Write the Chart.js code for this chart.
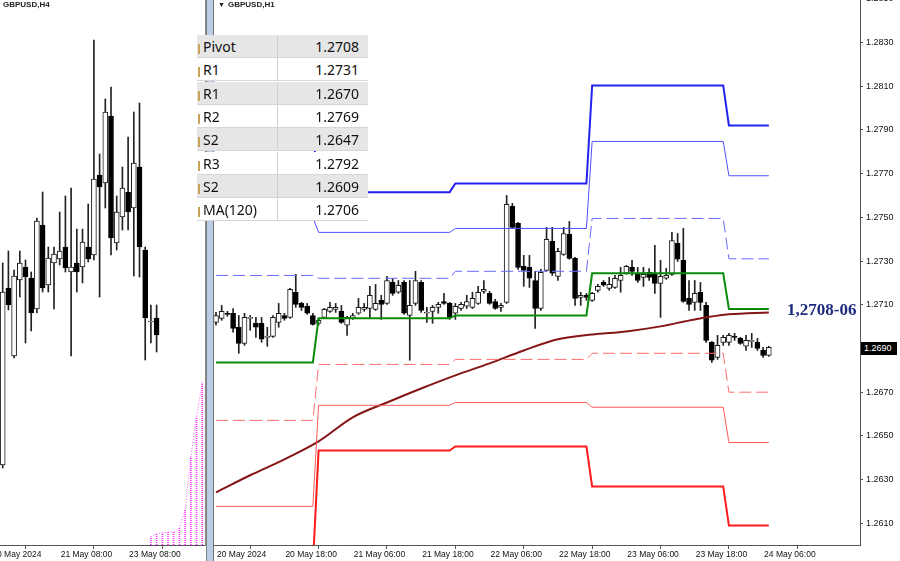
<!DOCTYPE html>
<html>
<head>
<meta charset="utf-8">
<script src="https://cdn.jsdelivr.net/npm/chart.js@4.4.1/dist/chart.umd.min.js"></script>
<style>
html,body{margin:0;padding:0;background:#fff;}
#wrap{position:relative;width:900px;height:561px;overflow:hidden;background:#fff;font-family:"Liberation Sans",Arial,sans-serif;}
canvas{position:absolute;top:0;}
#cLeft{left:0;}
#cRight{left:214px;}
#leftBorder{position:absolute;left:205px;top:0;width:1px;height:546px;background:#8a8a8a;}
#split{position:absolute;left:206px;top:0;width:6px;height:561px;background:#b9cde5;border-left:1px solid #7f7f7f;border-right:1px solid #6f6f6f;}
.title{position:absolute;top:0px;font-size:8px;font-weight:bold;color:#222;white-space:nowrap;}
#tbl{position:absolute;left:197px;top:35px;width:171px;}
.row{position:absolute;left:0;width:171px;height:23px;border-bottom:1px solid #d6d6d6;box-sizing:border-box;font-family:"Noto Sans","Open Sans",sans-serif;font-size:14px;color:#111;}
.row.g{background:#e6e6e6;}
.row.w{background:#fff;}
.row .n{position:absolute;left:6px;top:2px;}
.row .v{position:absolute;right:9px;top:2px;}
.row .sep{position:absolute;left:80px;top:0;width:1px;height:100%;background:#cfcfcf;}
.row .mk{position:absolute;left:1px;top:9px;width:2px;height:10px;background:#c9a25a;}
#lvl{position:absolute;left:787px;top:300px;font-family:"Liberation Serif","DejaVu Serif",serif;font-weight:bold;font-size:17px;color:#1e2b7c;white-space:nowrap;}
#price{position:absolute;left:861px;top:342px;width:36px;height:13px;background:#000;color:#fff;font-size:9px;line-height:13px;padding-left:3px;box-sizing:border-box;}
</style>
</head>
<body>
<div id="wrap">
  <canvas id="cLeft" width="205" height="561"></canvas>
  <canvas id="cRight" width="686" height="561"></canvas>
  <div id="leftBorder"></div>
  <div id="split"></div>
  <div class="title" style="left:3px;">GBPUSD,H4</div>
  <div class="title" style="left:218px;font-weight:normal;font-size:7px;top:1px;">&#9660;</div>
  <div class="title" style="left:228px;">GBPUSD,H1</div>
  <div id="tbl"></div>
  <div id="lvl">1,2708-06</div>
  <div id="price">1.2690</div>
</div>
<script>
// ---------------- H1 (right panel) data: one entry per hourly bar, bar 0 = 20 May 06:00 ----------------
const h1Open = [1.27019,1.27038,1.27061,1.27061,1.26997,1.26923,1.27038,1.27015,1.27015,1.26951,
1.26955,1.27019,1.27051,1.27042,1.27157,1.27106,1.27093,1.27051,1.27015,1.27042,
1.27070,1.27079,1.27070,1.27006,1.27038,1.27061,1.27079,1.27083,1.27079,1.27120,
1.27106,1.27202,1.27157,1.27202,1.27051,1.27106,1.27202,1.27061,1.27070,1.27088,
1.27115,1.27106,1.27061,1.27083,1.27093,1.27088,1.27106,1.27161,1.27152,1.27115,
1.27088,1.27111,1.27550,1.27472,1.27276,1.27271,1.27211,1.27083,1.27257,1.27390,
1.27230,1.27330,1.27422,1.27312,1.27134,1.27143,1.27120,1.27166,1.27202,1.27175,
1.27179,1.27211,1.27244,1.27271,1.27244,1.27225,1.27248,1.27239,1.27198,1.27221,
1.27239,1.27381,1.27303,1.27129,1.27111,1.27157,1.27097,1.26928,1.26859,1.26928,
1.26928,1.26955,1.26946,1.26910,1.26932,1.26928,1.26891,1.26868];
const h1High = [1.27065,1.27097,1.27070,1.27083,1.27051,1.27061,1.27051,1.27042,1.27042,1.26997,
1.27051,1.27106,1.27061,1.27175,1.27239,1.27111,1.27106,1.27061,1.27038,1.27083,
1.27111,1.27106,1.27097,1.27047,1.27061,1.27129,1.27106,1.27184,1.27193,1.27143,
1.27230,1.27221,1.27211,1.27211,1.27211,1.27253,1.27211,1.27088,1.27097,1.27111,
1.27152,1.27111,1.27106,1.27111,1.27143,1.27157,1.27184,1.27211,1.27161,1.27125,
1.27106,1.27600,1.27564,1.27477,1.27326,1.27326,1.27253,1.27262,1.27454,1.27454,
1.27358,1.27454,1.27481,1.27317,1.27157,1.27152,1.27157,1.27193,1.27211,1.27225,
1.27234,1.27271,1.27280,1.27303,1.27271,1.27271,1.27266,1.27372,1.27303,1.27266,
1.27431,1.27426,1.27449,1.27211,1.27211,1.27202,1.27111,1.26932,1.26960,1.26960,
1.26969,1.26969,1.26951,1.26960,1.26969,1.26946,1.26905,1.26910];
const h1Low = [1.27006,1.27029,1.27047,1.26974,1.26878,1.26914,1.26983,1.26951,1.26928,1.26910,
1.26951,1.26997,1.27029,1.27038,1.27088,1.27074,1.27056,1.27006,1.27006,1.27038,
1.27065,1.27065,1.27015,1.26960,1.27033,1.27056,1.27070,1.27042,1.27074,1.27033,
1.27102,1.27143,1.27152,1.27056,1.26846,1.27097,1.27065,1.27019,1.27015,1.27061,
1.27102,1.27033,1.27033,1.27074,1.27083,1.27083,1.27102,1.27152,1.27102,1.27079,
1.27070,1.27106,1.27449,1.27262,1.27184,1.27179,1.26992,1.27074,1.27253,1.27234,
1.27211,1.27326,1.27308,1.27097,1.27097,1.27120,1.27115,1.27157,1.27184,1.27166,
1.27175,1.27157,1.27239,1.27234,1.27202,1.27184,1.27211,1.27152,1.27042,1.27216,
1.27234,1.27298,1.27111,1.27074,1.27074,1.27074,1.26928,1.26836,1.26850,1.26914,
1.26914,1.26937,1.26919,1.26891,1.26905,1.26891,1.26859,1.26864];
const h1Close = [1.27051,1.27070,1.27056,1.26992,1.26923,1.27042,1.27042,1.26997,1.26942,1.26955,
1.27042,1.27061,1.27038,1.27170,1.27102,1.27088,1.27061,1.27010,1.27029,1.27079,
1.27088,1.27088,1.27019,1.27042,1.27051,1.27088,1.27088,1.27143,1.27106,1.27102,
1.27211,1.27152,1.27189,1.27061,1.27097,1.27211,1.27074,1.27065,1.27088,1.27102,
1.27106,1.27042,1.27093,1.27102,1.27115,1.27129,1.27157,1.27170,1.27106,1.27083,
1.27097,1.27559,1.27454,1.27271,1.27257,1.27221,1.27083,1.27248,1.27399,1.27244,
1.27344,1.27426,1.27312,1.27129,1.27143,1.27134,1.27152,1.27184,1.27189,1.27193,
1.27221,1.27234,1.27276,1.27253,1.27211,1.27239,1.27225,1.27198,1.27230,1.27234,
1.27394,1.27308,1.27115,1.27102,1.27152,1.27111,1.26937,1.26846,1.26914,1.26951,
1.26960,1.26951,1.26923,1.26937,1.26937,1.26900,1.26868,1.26905];

// daily pivot levels (20, 21, 22, 23, 24 May); first and last hourly bar of each day
const dayStart = [0, 18, 42, 66, 90];
const dayEnd   = [17, 41, 65, 89, 97];
const levelR3    = [1.27897, 1.27615, 1.27655, 1.28103, 1.2792];
const levelR2    = [1.27499, 1.27431, 1.27449, 1.27847, 1.2769];
const levelR1    = [1.27234, 1.27221, 1.27253, 1.27495, 1.2731];
const levelPivot = [1.26836, 1.27038, 1.27051, 1.27244, 1.2708];
const levelS1    = [1.26571, 1.26827, 1.26850, 1.26878, 1.2670];
const levelS2    = [1.26178, 1.26640, 1.26653, 1.26631, 1.2647];
const levelS3    = [1.25908, 1.26433, 1.26452, 1.26269, 1.2609];

// MA(120) read at every 6th bar
const maBars   = [0, 6, 12, 18, 24, 30, 36, 42, 48, 54, 60, 66, 72, 78, 84, 90, 97];
const maValues = [1.26242,1.26320,1.26393,1.26475,1.26585,1.26653,1.26717,1.26777,1.26832,1.26891,1.26942,1.26964,1.26978,1.27001,1.27033,1.27056,1.27065];

const h1TickBars   = [0, 12, 24, 36, 48, 60, 72, 84, 96];
const h1TickLabels = ['20 May 2024','20 May 18:00','21 May 06:00','21 May 18:00','22 May 06:00','22 May 18:00','23 May 06:00','23 May 18:00','24 May 06:00'];
const priceTicks   = [1.2610,1.2630,1.2650,1.2670,1.2690,1.2710,1.2730,1.2750,1.2770,1.2790,1.2810,1.2830,1.2850];

// ---------------- H4 (left panel) data ----------------
const h4Open  = [1.26770,1.27124,1.26988,1.27140,1.27166,1.27144,1.27082,1.27250,1.27130,1.27174,1.27182,1.27206,1.27156,1.27174,1.27166,1.27206,1.27190,1.27350,1.27334,1.27468,1.27214,1.27266,1.27316,1.27284,1.27366,1.27200,1.27056,1.27064];
const h4High  = [1.27174,1.27198,1.27160,1.27198,1.27180,1.27156,1.27264,1.27316,1.27206,1.27206,1.27276,1.27308,1.27324,1.27242,1.27242,1.27292,1.27620,1.27392,1.27502,1.27526,1.27308,1.27366,1.27426,1.27476,1.27494,1.27206,1.27090,1.27090];
const h4Low   = [1.26764,1.27080,1.26984,1.27106,1.27014,1.27038,1.27074,1.27116,1.27116,1.27082,1.27170,1.27156,1.26988,1.27116,1.27134,1.27176,1.27180,1.27106,1.27284,1.27190,1.27200,1.27240,1.27240,1.27148,1.27146,1.26980,1.27014,1.26996];
const h4Close = [1.27116,1.27090,1.27148,1.27174,1.27146,1.27074,1.27258,1.27124,1.27184,1.27192,1.27198,1.27164,1.27166,1.27156,1.27216,1.27182,1.27342,1.27326,1.27476,1.27224,1.27276,1.27324,1.27276,1.27374,1.27206,1.27064,1.27058,1.27030];
const cloudBars = [26, 27, 28, 29, 30, 31, 32, 33, 34, 35];
const cloudTop  = [1.26626,1.26632,1.26634,1.26636,1.26636,1.26644,1.26680,1.26786,1.26866,1.26934];
const h4TickBars   = [-2, 10, 22];
const h4TickLabels = ['20 May 2024','21 May 08:00','23 May 08:00'];

// ---------------- info table ----------------
const tableNames  = ['Pivot','R1','R1','R2','S2','R3','S2','MA(120)'];
const tableValues = ['1.2708','1.2731','1.2670','1.2769','1.2647','1.2792','1.2609','1.2706'];

// =======================================================================
const SANS = '"Liberation Sans", Arial, sans-serif';

function candleDatasets(o, h, l, c, bodyW) {
  const bull = [], bear = [], wick = [];
  o.forEach((ov, i) => {
    wick.push({x: i, y: [l[i], h[i]]});
    if (c[i] >= ov) bull.push({x: i, y: [ov, c[i]]});
    else bear.push({x: i, y: [c[i], ov]});
  });
  const base = {type: 'bar', grouped: false, borderSkipped: false, barThickness: bodyW};
  return [
    Object.assign({}, base, {data: bull, backgroundColor: '#ffffff', borderColor: '#1a1a1a', borderWidth: 1, order: 0}),
    Object.assign({}, base, {data: bear, backgroundColor: '#000000', borderColor: '#000000', borderWidth: 1, order: 0}),
    Object.assign({}, base, {data: wick, backgroundColor: '#222222', borderWidth: 0, barThickness: 1, order: 1})
  ];
}

function levelPoints(vals) {
  const pts = [];
  dayStart.forEach((s, d) => {
    pts.push({x: s, y: vals[d]});
    pts.push({x: dayEnd[d], y: vals[d]});
  });
  return pts;
}

function lineDs(data, color, width, dash) {
  return {type: 'line', data: data, borderColor: color, borderWidth: width, borderDash: dash || [],
          pointRadius: 0, tension: 0, fill: false, order: -1};
}

function xAxis(minV, maxV, tickBars, tickLabels) {
  return {
    type: 'linear', min: minV, max: maxV, offset: false,
    grid: {drawOnChartArea: false, drawTicks: true, tickLength: 4, color: '#555', lineWidth: 1},
    border: {display: true, color: '#555', width: 1},
    afterBuildTicks: (s) => { s.ticks = tickBars.map(v => ({value: v})); },
    afterFit: (s) => { s.height = 16; s.paddingLeft = 0; s.paddingRight = 0; },
    ticks: {
      autoSkip: false, maxRotation: 0, minRotation: 0, align: 'start', labelOffset: 1, padding: 1,
      color: '#111', font: {family: SANS, size: 8.5},
      callback: (v) => { const k = tickBars.indexOf(v); return k >= 0 ? tickLabels[k] : ''; }
    }
  };
}

const common = {
  responsive: false, animation: false, devicePixelRatio: 1,
  layout: {padding: 0},
  plugins: {legend: {display: false}, tooltip: {enabled: false}}
};

// ---------------- right (H1) chart ----------------
const ctxR = document.getElementById('cRight').getContext('2d');
const maDs = lineDs(maBars.map((b, i) => ({x: b, y: maValues[i]})), '#861515', 2);
maDs.cubicInterpolationMode = 'monotone';
const rightSets = [
  lineDs(levelPoints(levelR3), '#2323f0', 2),
  lineDs(levelPoints(levelR2), '#4f4fff', 1),
  lineDs(levelPoints(levelR1), '#6a6aff', 1, [12, 5]),
  lineDs(levelPoints(levelPivot), '#0a8a0a', 2),
  lineDs(levelPoints(levelS1), '#ff6e6e', 1, [12, 5]),
  lineDs(levelPoints(levelS2), '#ff5a5a', 1),
  lineDs(levelPoints(levelS3), '#ff1a1a', 2),
  maDs
].concat(candleDatasets(h1Open, h1High, h1Low, h1Close, 5));

new Chart(ctxR, {
  type: 'bar',
  data: {datasets: rightSets},
  options: Object.assign({}, common, {
    scales: {
      x: xAxis(-0.35, 113, h1TickBars, h1TickLabels),
      y: {
        type: 'linear', position: 'right', min: 1.26001, max: 1.28494,
        grid: {drawOnChartArea: false, drawTicks: true, tickLength: 3, color: '#555'},
        border: {display: true, color: '#555', width: 1},
        afterBuildTicks: (s) => { s.ticks = priceTicks.map(v => ({value: v})); },
        afterFit: (s) => { s.width = 40; s.paddingTop = 0; s.paddingBottom = 0; },
        ticks: {autoSkip: false, padding: 3, color: '#111', font: {family: SANS, size: 9},
                callback: (v) => Number(v).toFixed(4)}
      }
    }
  })
});

// ---------------- left (H4) chart ----------------
const ctxL = document.getElementById('cLeft').getContext('2d');
const pc = document.createElement('canvas'); pc.width = 1; pc.height = 2;
const pcx = pc.getContext('2d'); pcx.fillStyle = '#ff33ff'; pcx.fillRect(0, 0, 1, 1);
const dotted = ctxL.createPattern(pc, 'repeat');
const LEFT_MIN = 1.2661, LEFT_MAX = 1.2770;

const leftSets = [
  {type: 'bar', grouped: false, barThickness: 1, order: 3, borderWidth: 0, backgroundColor: dotted,
   data: cloudBars.map((b, i) => ({x: b, y: [LEFT_MIN, cloudTop[i]]}))},
  {type: 'line', order: 3, borderColor: '#ff55ff', borderWidth: 1, borderDash: [1, 2], pointRadius: 0, tension: 0,
   data: cloudBars.map((b, i) => ({x: b, y: cloudTop[i]}))}
].concat(candleDatasets(h4Open, h4High, h4Low, h4Close, 5));

new Chart(ctxL, {
  type: 'bar',
  data: {datasets: leftSets},
  options: Object.assign({}, common, {
    scales: {
      x: xAxis(-0.474, 35.49, h4TickBars, h4TickLabels),
      y: {type: 'linear', display: false, min: LEFT_MIN, max: LEFT_MAX}
    }
  })
});

// ---------------- table ----------------
const tbl = document.getElementById('tbl');
tableNames.forEach((n, r) => {
  const d = document.createElement('div');
  d.className = 'row ' + (r % 2 === 0 ? 'g' : 'w');
  d.style.top = (r * 23.3) + 'px';
  d.innerHTML = '<div class="mk"></div><div class="n"></div><div class="sep"></div><div class="v"></div>';
  d.querySelector('.n').textContent = n;
  d.querySelector('.v').textContent = tableValues[r];
  tbl.appendChild(d);
});
</script>
</body>
</html>
